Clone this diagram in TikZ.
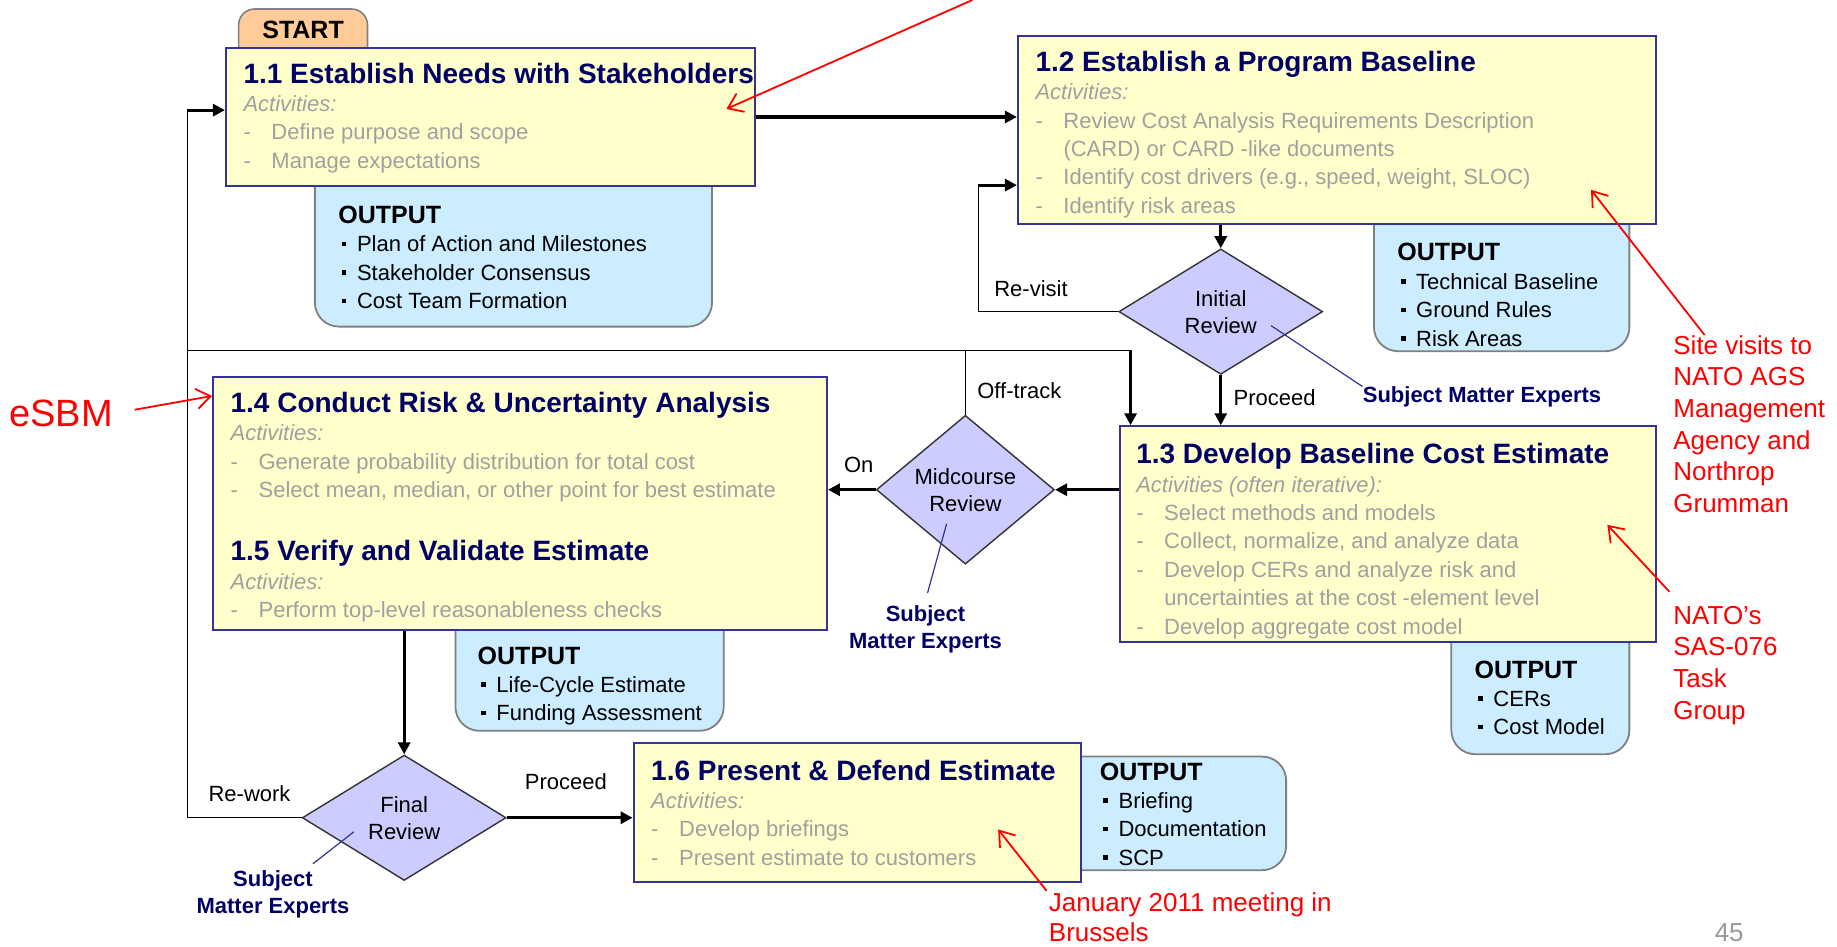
\documentclass[tikz,border=0pt]{standalone}
\usepackage{fontspec}
\setmainfont{Liberation Sans}
\usetikzlibrary{shapes.geometric, arrows.meta, calc}

\newlength{\px}\setlength{\px}{0.5858pt}

\definecolor{navy}{HTML}{000066}
\definecolor{framenavy}{HTML}{333399}
\definecolor{stagefill}{HTML}{FFFFCC}
\definecolor{outfill}{HTML}{CCECFF}
\definecolor{reviewfill}{HTML}{CCCCFF}
\definecolor{tabfill}{HTML}{FFCC99}
\definecolor{actgray}{HTML}{A0A0A0}
\definecolor{notered}{HTML}{FF0000}

\newcommand{\titlefont}{\fontsize{14}{16}\selectfont\bfseries\color{navy}}
\newcommand{\bodyfont}{\fontsize{11}{14.2}\selectfont}
% width, height, left pad, first baseline (all in px), lines
\newcommand{\boxtext}[5]{\parbox[c][#2\px][t]{#1\px}{\bodyfont\raggedright\leftskip=#3\px\relax\rule{0pt}{#4\px}#5}}
\newcommand{\stagetitle}[1]{\mbox{\titlefont #1}}
\newcommand{\act}[1]{\mbox{\makebox[14pt][l]{-}#1}}
\newcommand{\actcont}[1]{\mbox{\hspace*{14pt}#1}}
\newcommand{\outhead}{\mbox{\fontsize{12.5}{14}\selectfont\bfseries OUTPUT}}
\newcommand{\outitem}[1]{\mbox{\hspace*{3\px}\makebox[13\px][l]{\rule[0.25em]{2.3pt}{2.3pt}}#1}}

\begin{document}
\begin{tikzpicture}[x=0.5858pt, y=-0.5858pt]
	\tikzset{
		stage/.style={draw=framenavy, line width=1pt, fill=stagefill, inner sep=0pt, anchor=north west, text=actgray},
		outbox/.style={draw=gray, line width=0.9pt, fill=outfill, rounded corners=12pt, inner sep=0pt, anchor=north west},
		starttab/.style={draw=gray, line width=0.8pt, fill=tabfill, rounded corners=8pt, inner sep=0pt, anchor=north west},
		review/.style={diamond, draw=black!80, line width=0.7pt, fill=reviewfill, inner sep=0pt, align=center, font=\fontsize{11}{13.5}\selectfont},
		lbl/.style={font=\fontsize{11}{13}\selectfont, inner sep=0pt},
		sme/.style={font=\fontsize{11}{13.5}\selectfont\bfseries, text=navy, align=center, inner sep=0pt},
		smeline/.style={draw=framenavy, line width=0.6pt},
		flow/.style={line width=1.6pt, -{Triangle[length=6pt,width=6pt]}},
		loopline/.style={line width=0.7pt},
		note/.style={font=\fontsize{13}{15.8}\selectfont, text=notered, align=left, inner sep=0pt, anchor=north west},
		redarrow/.style={draw=notered, line width=0.9pt, -{Straight Barb[length=7pt,width=10pt]}}
	}
	\path[use as bounding box, fill=white] (0,0) rectangle (1568,808);
	
	% outputs (drawn first, partly under the stages)
	\node[outbox] (o11) at (268,130) {\boxtext{339}{148}{20}{60}{\outhead\\ \outitem{Plan of Action and Milestones}\\ \outitem{Stakeholder Consensus}\\ \outitem{Cost Team Formation}}};
	\node[outbox] (o12) at (1172,162) {\boxtext{218}{137}{20}{60}{\outhead\\ \outitem{Technical Baseline}\\ \outitem{Ground Rules}\\ \outitem{Risk Areas}}};
	\node[outbox] (o13) at (1238,519) {\boxtext{152}{124}{20}{59}{\outhead\\ \outitem{CERs}\\ \outitem{Cost Model}}};
	\node[outbox] (o14) at (388,509) {\boxtext{229}{114}{19}{57}{\outhead\\ \outitem{Life-Cycle Estimate}\\ \outitem{Funding Assessment}}};
	\node[outbox] (o16) at (895,645) {\boxtext{202}{97}{43}{20}{\outhead\\ \outitem{Briefing}\\ \outitem{Documentation}\\ \outitem{SCP}}};
	
	\node[starttab] (start) at (203,7) {\parbox[c][45\px][t]{110\px}{\centering\rule{0pt}{25\px}\fontsize{12.5}{14}\selectfont\bfseries START}};
	
	% stages
	\node[stage] (b11) at (192,40) {\boxtext{452}{118}{15}{30}{\stagetitle{1.1 Establish Needs with Stakeholders}\\ \textit{Activities:}\\ \act{Define purpose and scope}\\ \act{Manage expectations}}};
	\node[stage] (b12) at (868,30) {\boxtext{545}{160}{15}{30}{\stagetitle{1.2 Establish a Program Baseline}\\ \textit{Activities:}\\ \act{Review Cost Analysis Requirements Description}\\ \actcont{(CARD) or CARD -like documents}\\ \act{Identify cost drivers (e.g., speed, weight, SLOC)}\\ \act{Identify risk areas}}};
	\node[stage] (b13) at (955,363) {\boxtext{458}{184}{14}{32}{\stagetitle{1.3 Develop Baseline Cost Estimate}\\ \textit{Activities (often iterative):}\\ \act{Select methods and models}\\ \act{Collect, normalize, and analyze data}\\ \act{Develop CERs and analyze risk and}\\ \actcont{uncertainties at the cost -element level}\\ \act{Develop aggregate cost model}}};
	\node[stage] (b14) at (181,321) {\boxtext{524}{216}{15}{30}{\stagetitle{1.4 Conduct Risk \& Uncertainty Analysis}\\ \textit{Activities:}\\ \act{Generate probability distribution for total cost}\\ \act{Select mean, median, or other point for best estimate}\\[30\px] \stagetitle{1.5 Verify and Validate Estimate}\\ \textit{Activities:}\\ \act{Perform top-level reasonableness checks}}};
	\node[stage] (b16) at (540,633) {\boxtext{382}{119}{15}{32}{\stagetitle{1.6 Present \& Defend Estimate}\\ \textit{Activities:}\\ \act{Develop briefings}\\ \act{Present estimate to customers}}};
	
	% reviews
	\node[review, minimum width=101.9pt, minimum height=62.7pt] (initial) at (1042,266) {Initial\\Review};
	\node[review, minimum width=89pt, minimum height=74.4pt] (mid) at (824,418) {Midcourse\\Review};
	\node[review, minimum width=101.9pt, minimum height=62.7pt] (final) at (345,698) {Final\\Review};
	
	% main flow
	\draw[flow] (b11.east) -- (b11.east -| b12.west);
	\draw[flow] (initial.north |- b12.south) -- (initial.north);
	\draw[flow] (initial.south) -- (initial.south |- b13.north);
	\draw[flow] (mid.east -| b13.west) -- (mid.east);
	\draw[flow] (mid.west) -- (mid.west -| b14.east);
	\draw[flow] (final.north |- b14.south) -- (final.north);
	\draw[flow] (final.east) -- (final.east -| b16.west);
	
	% loops back
	\coordinate (revisit) at (835,158);
	\draw[loopline] (initial.west) -| (revisit);
	\draw[flow] (revisit) -- (revisit -| b12.west);
	\coordinate (rework) at (160,94);
	\draw[loopline] (final.west) -| (rework);
	\draw[flow] (rework) -- (rework -| b11.west);
	\coordinate (offleft) at (160,299);
	\coordinate (offright) at (965,299);
	\draw[loopline] (mid.north) -- (mid.north |- offleft);
	\draw[loopline] (offleft) -- (offright);
	\draw[flow] (offright) -- (offright |- b13.north);
	
	\node[lbl] (lrevisit) at (880,246) {Re-visit};
	\node[lbl] (lproceedA) at (1088,339) {Proceed};
	\node[lbl] (lofftrack) at (870,333) {Off-track};
	\node[lbl] (lon) at (733,397) {On};
	\node[lbl] (lrework) at (213,677) {Re-work};
	\node[lbl] (lproceedB) at (483,667) {Proceed};
	
	% subject matter experts
	\node[sme] (smeA) at (1265,339) {Subject Matter Experts};
	\node[sme] (smeB) at (790,537) {Subject\\Matter Experts};
	\node[sme] (smeC) at (233,763) {Subject\\Matter Experts};
	\draw[smeline] ($(initial.center)+(43,12)$) -- (smeA.north west);
	\draw[smeline] ($(mid.center)+(-16,29)$) -- ([xshift=1pt,yshift=6pt]smeB.north);
	\draw[smeline] ($(final.center)+(-43,12)$) -- ([xshift=20pt,yshift=3pt]smeC.north);
	
	% notes in red
	\node[note] (site) at (1428,286) {Site visits to\\NATO AGS\\Management\\Agency and\\Northrop\\Grumman};
	\node[note] (sas) at (1428,517) {NATO’s\\SAS-076\\Task\\Group};
	\node[note, font=\fontsize{13}{14.6}\selectfont] (jan) at (895,762) {January 2011 meeting in\\Brussels};
	\node[font=\fontsize{19}{22}\selectfont, text=notered, inner sep=0pt] (esbm) at (52,353) {eSBM};
	\coordinate (tailA) at (830,0);
	\coordinate (tipA) at (620,93);
	\coordinate (tipB) at (181,338);
	\coordinate (tipC) at (1358,162);
	\coordinate (tipD) at (1372,448);
	\coordinate (tipE) at (852,708);
	\draw[redarrow] (tailA) -- (tipA);
	\draw[redarrow, shorten <=11pt] (esbm.east) -- (tipB);
	\draw[redarrow] ([xshift=15.8pt]site.north west) -- (tipC);
	\draw[redarrow] ([xshift=-1.8pt,yshift=7pt]sas.north west) -- (tipD);
	\draw[redarrow] ([xshift=-1pt,yshift=1pt]jan.north west) -- (tipE);
	
	\node[font=\fontsize{13}{15}\selectfont, text=gray!80, inner sep=0pt] (pagenum) at (1476,796) {45};
\end{tikzpicture}
\end{document}
